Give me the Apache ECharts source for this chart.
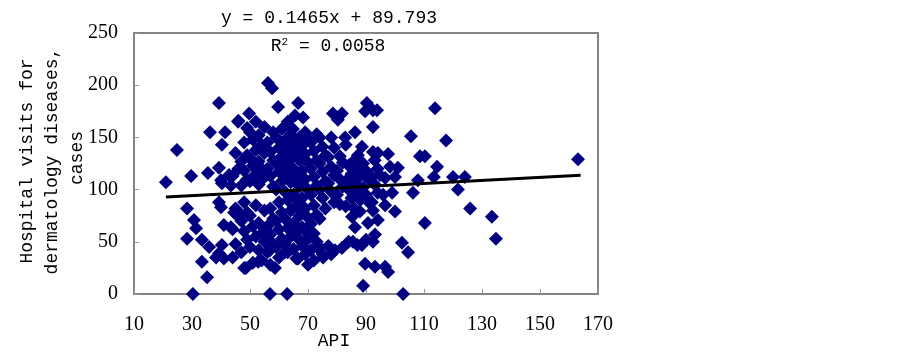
<!DOCTYPE html>
<html>
<head>
<meta charset="utf-8">
<script src="https://cdn.jsdelivr.net/npm/echarts@6/dist/echarts.min.js"></script>
<style>
  html, body { margin: 0; padding: 0; background: #fff; }
  #scatterapi { width: 900px; height: 353px; }
</style>
</head>
<body>
<div id="scatterapi"></div>
<script>
// x: API, y: hospital visits (cases)
var outerPoints = [
  [21,107],[24.8,138],[28.3,82],[29.7,113],[28.3,53],[30.3,0],[30.7,71],[31.4,63],[33.4,52],[33.4,31],
  [35.2,16],[35.9,45],[35.5,116],[36.2,155],[39.3,183],[41.4,155],[40.3,143],[45.9,165],[49.7,173],[39.3,121],
  [42.8,114],[40,109],[40.3,106],[43.4,104],[39.3,88],[40,83],[41,66],[38.3,35],[41,34],[39.3,39],
  [40.3,47],[48.6,25],[43.4,64],[44.5,78],[45.5,80]
];
var topPoints = [
  [56.2,202],[57.6,197],[59.7,179],[66.6,183],[65.5,171],[68.3,169],[64.8,158],[78.6,173],[81.7,173],[80.3,167],
  [90.3,183],[92.4,176],[89.7,175],[92.4,160],[86.2,155],[82.8,150],[88.6,141],[92.4,136],[87.2,133]
];
var rightPoints = [
  [113.8,178],[93.8,176],[105.5,151],[117.6,147],[94.1,135],[97.6,134],[108.6,132],[110.3,132],[98.3,122],[101,121],
  [114.5,122],[94.8,114],[96.6,111],[100,112],[107.9,109],[113.4,112],[120,112],[124.1,112],[121.7,100],[106.2,97],
  [99,97],[95.9,95],[100,79],[96.6,85],[94.1,71],[93.1,57],[125.9,82],[110.3,68],[102.4,49],[104.5,40],
  [96.6,26],[97.6,21],[102.8,0],[133.4,74],[134.8,53],[163.1,129]
];
var bottomPoints = [
  [56.9,0],[62.8,0],[89,8],[89.7,29],[58.6,25],[52.8,31],[56.9,42],[62,40],[66.6,34],[70,28],
  [73.1,45],[75.2,35],[79.3,42],[81.7,44],[85.5,50],[88.6,47],[92.4,50],[93.1,26],[85.2,74],[86.2,64],
  [90.7,68],[87.9,79],[92.4,80]
];
var corePoints = [
  [44,35],[45,48],[44,62],[46,74],[45,82],[44,113],[46,120],[45,135],[46,166],
  [48,25],[47,40],[49,52],[48,60],[47,70],[49,78],[48,88],[47,104],[49,110],[48,118],[47,127],[49,133],[48,145],[49,159],
  [51,30],[50,45],[52,55],[51,65],[50,75],[52,85],[50,108],[52,115],[51,123],[50,130],[52,138],[51,148],[50,155],[52,165],
  [54,32],[53,42],[55,50],[54,58],[53,68],[55,80],[53,105],[55,112],[54,120],[53,127],[55,135],[54,143],[53,152],[55,160],
  [57,28],[56,40],[58,48],[57,57],[56,65],[58,72],[57,82],[58,103],[57,113],[56,120],[58,128],[57,136],[56,145],[58,155],
  [60,35],[59,45],[61,53],[60,62],[59,70],[61,78],[60,88],[59,100],[61,108],[60,117],[59,125],[61,132],[60,140],[59,150],[61,158],
  [63,40],[62,48],[64,55],[63,63],[62,72],[64,80],[63,90],[62,98],[64,107],[63,115],[62,123],[64,130],[63,138],[62,147],[64,153],[63,165],
  [66,34],[65,43],[67,52],[66,60],[65,68],[67,75],[66,85],[65,95],[67,103],[66,112],[65,120],[67,128],[66,136],[65,143],[67,150],
  [69,38],[68,46],[70,53],[69,60],[68,64],[70,73],[69,82],[68,92],[70,100],[69,110],[68,118],[70,126],[69,134],[68,142],[70,148],[69,155],
  [72,32],[71,42],[73,50],[72,58],[71,67],[73,76],[72,85],[71,95],[73,104],[72,112],[71,120],[73,128],[72,137],[71,145],[73,153],
  [75,38],[74,45],[74,72],[76,82],[75,92],[74,100],[76,108],[75,117],[74,125],[76,133],[75,141],[74,150],
  [78,38],[77,46],[79,88],[78,98],[77,106],[79,114],[78,122],[77,131],[79,140],[78,150],
  [81,86],[80,95],[82,103],[81,110],[80,118],[82,126],[81,132],
  [84,50],[83,84],[85,92],[84,100],[83,108],[85,115],[84,123],[83,143],
  [87,47],[86,82],[88,90],[87,98],[86,106],[88,113],[87,120],[86,128],
  [90,52],[91,88],[90,95],[89,102],[91,110],[90,118],[89,125],
  [92,88],[94,97],[93,105],[92,112],[94,120],[93,128]
];
var xTicks = { min: 10, max: 170, step: 20 };
var yTicks = { min: 0, max: 250, step: 50 };
var trendSlope = 0.1465;
var trendIntercept = 89.793;
var trendSpan = [21, 164];

var scatterData = outerPoints.concat(topPoints, rightPoints, bottomPoints, corePoints);
var trendData = trendSpan.map(function (x) { return [x, trendSlope * x + trendIntercept]; });

var myChart = echarts.init(document.getElementById('scatterapi'));
var monoFont = '"Liberation Mono", monospace';
var serifFont = '"Liberation Serif", serif';

function label(text, x, y, rotated) {
    return {
        type: 'text', x: x, y: y, rotation: rotated ? Math.PI / 2 : 0,
        style: { text: text, font: '18px ' + monoFont, fill: '#000', textAlign: 'center', textVerticalAlign: 'middle' }
    };
}

var option = {
    animation: false,
    backgroundColor: '#ffffff',
    grid: {
        left: 134, right: 302, top: 33, bottom: 59,
        outerBoundsMode: 'none',
        show: true, borderColor: '#848484', borderWidth: 2, backgroundColor: 'transparent'
    },
    xAxis: {
        type: 'value',
        min: xTicks.min, max: xTicks.max, interval: xTicks.step,
        axisLine: { lineStyle: { color: '#848484', width: 2 } },
        axisTick: { inside: true, length: 5, lineStyle: { color: '#9a9a9a' } },
        axisLabel: { color: '#000', fontFamily: serifFont, fontSize: 20, margin: 21 },
        splitLine: { show: false }
    },
    yAxis: {
        type: 'value',
        min: yTicks.min, max: yTicks.max, interval: yTicks.step,
        axisLine: { show: true, lineStyle: { color: '#848484', width: 2 } },
        axisTick: { show: true, inside: true, length: 5, lineStyle: { color: '#9a9a9a' } },
        axisLabel: { color: '#000', fontFamily: serifFont, fontSize: 20, margin: 16 },
        splitLine: { show: false }
    },
    graphic: [
        label('y = 0.1465x + 89.793', 329, 18),
        { type: 'text', x: 328, y: 46, style: {
            text: 'R{sup|2} = 0.0058', font: '18px ' + monoFont, fill: '#000', textAlign: 'center', textVerticalAlign: 'middle',
            rich: { sup: { fontSize: 11, fontFamily: monoFont, verticalAlign: 'top', padding: [0, 0, 8, 0] } }
        } },
        label('API', 334, 341),
        label('Hospital visits for', 27, 161, true),
        label('dermatology diseases,', 52, 161, true),
        label('cases', 77, 158, true)
    ],
    series: [
        {
            name: 'visits',
            type: 'scatter',
            symbol: 'diamond',
            symbolSize: 14,
            itemStyle: { color: '#000080', opacity: 1 },
            data: scatterData,
            z: 2
        },
        {
            name: 'trend',
            type: 'line',
            data: trendData,
            symbol: 'none',
            lineStyle: { color: '#000', width: 3 },
            z: 3
        }
    ]
};
myChart.setOption(option);
</script>
</body>
</html>
